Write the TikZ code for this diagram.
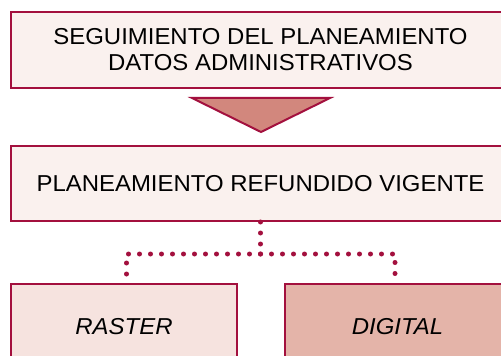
\documentclass[tikz,border=0pt]{standalone}
\usepackage{fontspec}
\setmainfont{Liberation Sans}[FakeStretch=1.04]
\usetikzlibrary{positioning}

\definecolor{edgered}{HTML}{A3103E}
\definecolor{palefill}{HTML}{FAF1EE}
\definecolor{rasterfill}{HTML}{F6E3DF}
\definecolor{digitalfill}{HTML}{E4B4A9}
\definecolor{arrowfill}{HTML}{D2877D}

\tikzset{
    box/.style={draw=edgered, line width=0.04cm, fill=palefill, align=center,
        font=\fontsize{13.1}{14.8}\selectfont, inner sep=0pt},
    dotline/.style={edgered, line width=0.1cm, line cap=round,
        dash pattern=on 0pt off 0.22cm}
}

\begin{document}
\begin{tikzpicture}
        % page frame
        \clip (0,0) rectangle (10.02,7.1);
        \fill[white] (0,0) rectangle (10.02,7.1);

        % top box
        \node[box, minimum width=9.98cm, minimum height=1.52cm] (seguimiento) at (5.21,6.1)
            {SEGUIMIENTO DEL PLANEAMIENTO\\DATOS ADMINISTRATIVOS};

        % down arrow
        \draw[edgered, line width=0.04cm, fill=arrowfill, line join=miter]
            (3.84,5.14) -- (6.6,5.14) -- (5.22,4.46) -- cycle;

        % merged plan
        \node[box, minimum width=9.98cm, minimum height=1.5cm] (vigente) at (5.21,3.43)
            {PLANEAMIENTO REFUNDIDO VIGENTE};

        % the two formats
        \node[box, fill=rasterfill, minimum width=4.52cm, minimum height=2cm] (raster) at (2.48,0.42)
            {\raisebox{0.32cm}{\itshape RASTER}};
        \node[box, fill=digitalfill, minimum width=4.5cm, minimum height=2cm] (digital) at (7.95,0.42)
            {\raisebox{0.32cm}{\itshape DIGITAL}};

        % dotted split
        \draw[dotline] (vigente.south) -- ++(0,-0.64) coordinate (fork);
        \draw[dotline] (fork) -| ([xshift=0.05cm]raster.north);
        \draw[dotline] (fork) -| ([xshift=-0.05cm]digital.north);

    \end{tikzpicture}
\end{document}
